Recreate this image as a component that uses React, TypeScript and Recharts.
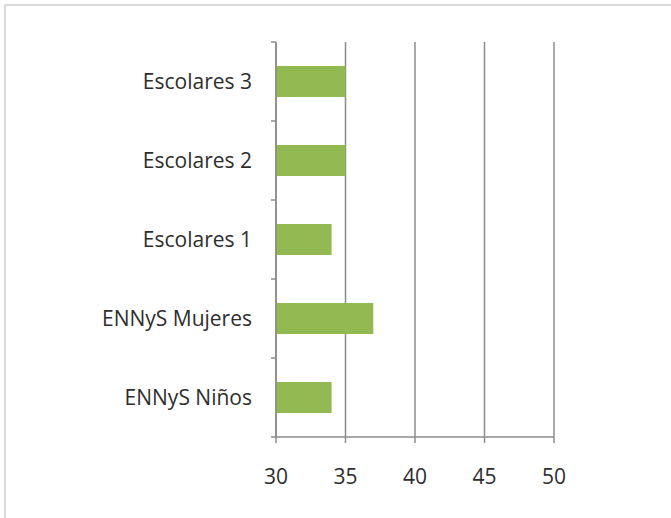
import React from "react";
import { BarChart, Bar, XAxis, YAxis, CartesianGrid } from "recharts";

const categories = ["Escolares 3", "Escolares 2", "Escolares 1", "ENNyS Mujeres", "ENNyS Niños"];
const values = [35, 35, 34, 37, 34];
const xTicks = [30, 35, 40, 45, 50];

const data = categories.map((name, i) => ({ name, value: values[i] }));

const GRAY = "#8c8c8c";
const TEXT = "#2e2e2e";
const FONT = "'Open Sans', sans-serif";

const CategoryTick = (props: any) => {
  const { x, y, payload, index, visibleTicksCount } = props;
  const half = payload && payload.offset ? payload.offset : 0;
  const axisX = x + 24;
  return (
    <g>
      <line x1={axisX - 5} x2={axisX} y1={y - half} y2={y - half} stroke={GRAY} strokeWidth={1.5} />
      {index === visibleTicksCount - 1 ? (
        <line x1={axisX - 5} x2={axisX} y1={y + half} y2={y + half} stroke={GRAY} strokeWidth={1.5} />
      ) : null}
      <text x={x} y={y} dy="0.355em" textAnchor="end" fill={TEXT} fontSize={21} fontFamily={FONT}>
        {payload.value}
      </text>
    </g>
  );
};

export default function App() {
  return (
    <div
      style={{
        position: "absolute",
        left: 0,
        top: 0,
        width: 671,
        height: 518,
        background: "#ffffff",
        overflow: "hidden",
      }}
    >
      <div
        style={{
          position: "absolute",
          left: 4,
          top: 4,
          right: 0,
          bottom: 0,
          borderTop: "2px solid #d9d9d9",
          borderLeft: "2px solid #d9d9d9",
        }}
      />
      <div style={{ position: "absolute", left: 0, top: 0 }}>
        <BarChart
          width={671}
          height={518}
          data={data}
          layout="vertical"
          margin={{ top: 42, right: 117, bottom: 21, left: 0 }}
          barCategoryGap="30.5%"
          style={{ fontFamily: FONT }}
        >
          <CartesianGrid horizontal={false} vertical={true} stroke={GRAY} strokeWidth={1.5} />
          <XAxis
            type="number"
            domain={[30, 50]}
            ticks={xTicks}
            allowDataOverflow
            height={60}
            tickSize={6}
            tickMargin={26}
            axisLine={{ stroke: GRAY, strokeWidth: 1.5 }}
            tickLine={{ stroke: GRAY, strokeWidth: 1.5 }}
            tick={{ fill: TEXT, fontSize: 21, fontFamily: FONT }}
          />
          <YAxis
            type="category"
            dataKey="name"
            width={276}
            tickSize={5}
            tickMargin={19}
            tickLine={false}
            axisLine={{ stroke: GRAY, strokeWidth: 1.5 }}
            tick={<CategoryTick />}
          />
          <Bar dataKey="value" fill="#93b953" isAnimationActive={false} />
        </BarChart>
      </div>
    </div>
  );
}
